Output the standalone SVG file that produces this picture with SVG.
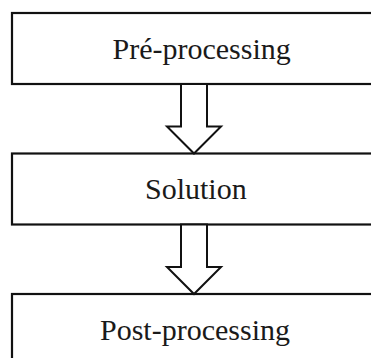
<svg xmlns="http://www.w3.org/2000/svg" width="371" height="358" viewBox="0 0 371 358">
  <style>
    .box { fill: #ffffff; stroke: #111111; stroke-width: 2.2; }
    .label { font-family: "Liberation Serif", "Times New Roman", serif; font-size: 30px; fill: #1a1a1a; }
    .flow { fill: #ffffff; stroke: #111111; stroke-width: 2; stroke-linejoin: miter; }
  </style>
  <rect width="371" height="358" fill="#ffffff"/>

  <g id="pre-processing">
    <rect class="box" x="12" y="13" width="380" height="71"/>
    <text class="label" x="112.5" y="58.5">Pré-processing</text>
  </g>

  <g id="solution">
    <rect class="box" x="12" y="153.5" width="380" height="71"/>
    <text class="label" x="145" y="199">Solution</text>
  </g>

  <g id="post-processing">
    <rect class="box" x="12" y="294" width="380" height="71"/>
    <text class="label" x="100" y="339.5">Post-processing</text>
  </g>

  <g id="connectors">
    <polygon class="flow" points="181,84 207,84 207,126.5 221,126.5 194,153.5 167,126.5 181,126.5"/>
    <polygon class="flow" points="181,224.5 207,224.5 207,267 221,267 194,294 167,267 181,267"/>
  </g>
</svg>
